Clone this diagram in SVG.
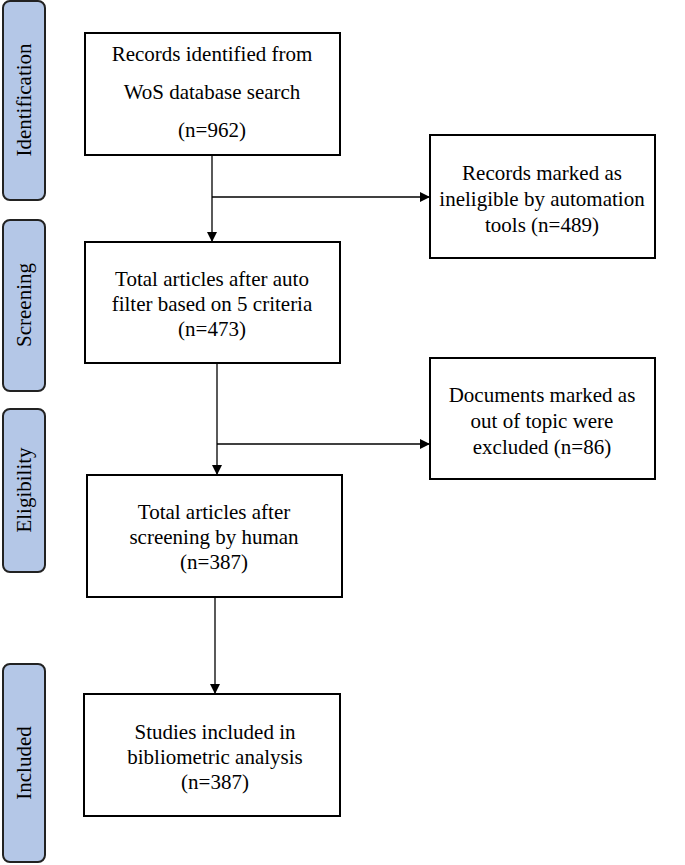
<svg xmlns="http://www.w3.org/2000/svg" width="685" height="865" viewBox="0 0 685 865">
<style>
.side{fill:#b4c7e7;stroke:#222;stroke-width:2}
.box{fill:#fff;stroke:#000;stroke-width:2}
text{font-family:"Liberation Serif","Times New Roman","DejaVu Serif",serif;font-size:21px;fill:#000;text-anchor:middle}
.c{stroke:#000;stroke-width:1.3;fill:none}
</style>
<defs><marker id="a" markerWidth="10" markerHeight="10" refX="9" refY="5" orient="auto" markerUnits="userSpaceOnUse"><path d="M0,0L10,5L0,10z" fill="#000"/></marker></defs>
<g id="phase-identification"><rect class="side" x="3" y="1" width="42" height="199" rx="7"/><text transform="translate(31,100) rotate(-90)">Identification</text></g>
<g id="phase-screening"><rect class="side" x="3" y="220" width="42" height="171" rx="7"/><text transform="translate(31,305) rotate(-90)">Screening</text></g>
<g id="phase-eligibility"><rect class="side" x="3" y="409" width="42" height="163" rx="7"/><text transform="translate(31,490) rotate(-90)">Eligibility</text></g>
<g id="phase-included"><rect class="side" x="3" y="664" width="42" height="198" rx="7"/><text transform="translate(31,763) rotate(-90)">Included</text></g>
<g id="connectors">
<path class="c" d="M212,155V241" marker-end="url(#a)"/>
<path class="c" d="M212,197H429" marker-end="url(#a)"/>
<path class="c" d="M217,363V474" marker-end="url(#a)"/>
<path class="c" d="M217,444H429" marker-end="url(#a)"/>
<path class="c" d="M215,597V693" marker-end="url(#a)"/>
</g>
<g id="n1"><rect class="box" x="85" y="33" width="255" height="122"/><text x="212" y="61">Records identified from</text><text x="212" y="99">WoS database search</text><text x="212" y="137">(n=962)</text></g>
<g id="n2"><rect class="box" x="430" y="135" width="225" height="123"/><text x="542" y="180">Records marked as</text><text x="542" y="206">ineligible by automation</text><text x="542" y="232">tools (n=489)</text></g>
<g id="n3"><rect class="box" x="85" y="242" width="255" height="121"/><text x="212" y="286">Total articles after auto</text><text x="212" y="311">filter based on 5 criteria</text><text x="212" y="336">(n=473)</text></g>
<g id="n4"><rect class="box" x="430" y="358" width="225" height="121"/><text x="542" y="402">Documents marked as</text><text x="542" y="428">out of topic were</text><text x="542" y="454">excluded (n=86)</text></g>
<g id="n5"><rect class="box" x="87" y="475" width="255" height="122"/><text x="214" y="519">Total articles after</text><text x="214" y="544">screening by human</text><text x="214" y="569">(n=387)</text></g>
<g id="n6"><rect class="box" x="84" y="694" width="256" height="122"/><text x="215" y="739">Studies included in</text><text x="215" y="764">bibliometric analysis</text><text x="215" y="789">(n=387)</text></g>
</svg>
